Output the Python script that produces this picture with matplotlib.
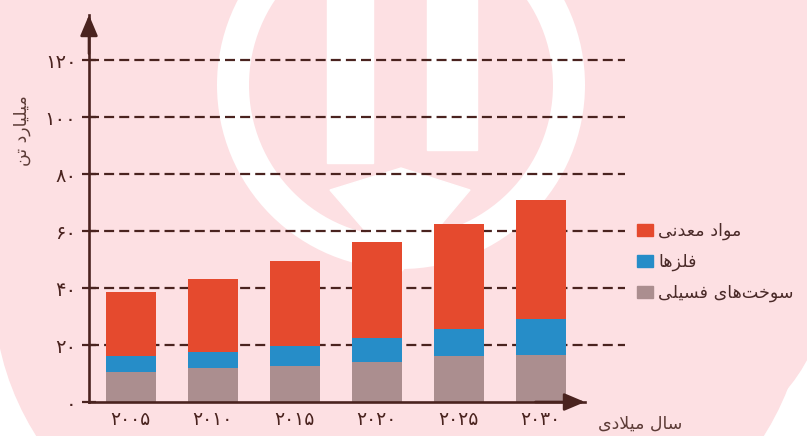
import matplotlib.pyplot as plt
from matplotlib.patches import Patch, Ellipse, Rectangle, Polygon

# data
years = ["۲۰۰۵", "۲۰۱۰", "۲۰۱۵", "۲۰۲۰", "۲۰۲۵", "۲۰۳۰"]
fossil = [10.5, 12, 12.5, 14, 16, 16.5]
metals = [5.5, 5.5, 7, 8.5, 9.5, 12.5]
minerals = [22.5, 25.5, 30, 33.5, 37, 42]
yticks = [0, 20, 40, 60, 80, 100, 120]
ytick_labels = ["۰", "۲۰", "۴۰", "۶۰", "۸۰", "۱۰۰", "۱۲۰"]
series_names = ["مواد معدنی", "فلزها", "سوخت‌های فسیلی"]
ylabel = "میلیارد تن"
xlabel = "سال میلادی"

red = "#e54a2e"
blue = "#268dc8"
grey = "#ab8e8f"
brown = "#4a231f"
pink = "#fde0e3"

# matplotlib does no arabic shaping, so pick presentation forms by hand
# (isolated, final, initial, medial)
FORMS = {
    'ا': ('\uFE8D', '\uFE8E', None, None),
    'د': ('\uFEA9', '\uFEAA', None, None),
    'ر': ('\uFEAD', '\uFEAE', None, None),
    'ز': ('\uFEAF', '\uFEB0', None, None),
    'و': ('\uFEED', '\uFEEE', None, None),
    'م': ('\uFEE1', '\uFEE2', '\uFEE3', '\uFEE4'),
    'ع': ('\uFEC9', '\uFECA', '\uFECB', '\uFECC'),
    'ن': ('\uFEE5', '\uFEE6', '\uFEE7', '\uFEE8'),
    'ی': ('\uFBFC', '\uFBFD', '\uFBFE', '\uFBFF'),
    'ف': ('\uFED1', '\uFED2', '\uFED3', '\uFED4'),
    'ل': ('\uFEDD', '\uFEDE', '\uFEDF', '\uFEE0'),
    'ه': ('\uFEE9', '\uFEEA', '\uFEEB', '\uFEEC'),
    'س': ('\uFEB1', '\uFEB2', '\uFEB3', '\uFEB4'),
    'خ': ('\uFEA5', '\uFEA6', '\uFEA7', '\uFEA8'),
    'ت': ('\uFE95', '\uFE96', '\uFE97', '\uFE98'),
}


def joins_next(c):
    return c in FORMS and FORMS[c][2] is not None


def shape(text):
    res = []
    i = 0
    n = len(text)
    while i < n:
        c = text[i]
        prev = text[i - 1] if i > 0 else ''
        nxt = text[i + 1] if i + 1 < n else ''
        if c not in FORMS:
            if c != '\u200c':
                res.append(c)
            i += 1
            continue
        jp = joins_next(prev)
        if c == 'ل' and nxt == 'ا':
            res.append('\uFEFC' if jp else '\uFEFB')
            i += 2
            continue
        jn = joins_next(c) and nxt in FORMS
        f = FORMS[c]
        if jp and jn:
            res.append(f[3])
        elif jp:
            res.append(f[1])
        elif jn:
            res.append(f[2])
        else:
            res.append(f[0])
        i += 1
    return ''.join(reversed(res))


W, H = 807, 436
fig = plt.figure(figsize=(W / 100, H / 100), dpi=100)
fig.patch.set_facecolor("white")


def fx(px):
    return px / W


def fy(py):
    return 1 - py / H


# pink background with the faint watermark
fig.patches.append(Rectangle((0, fy(300)), 1, 1, transform=fig.transFigure,
                             color=pink, zorder=-10))
fig.patches.append(Ellipse((fx(400), fy(295)), 2 * 405 / W, 2 * 318 / H,
                           transform=fig.transFigure, color=pink, zorder=-10))
right_pink = Ellipse((fx(400), fy(300)), 2 * 422 / W, 2 * 222 / H,
                     transform=fig.transFigure, color=pink, zorder=-10)
right_half = Rectangle((fx(400), 0), 1, 1, transform=fig.transFigure)
right_pink.set_clip_path(right_half)
fig.patches.append(right_pink)
ring = Ellipse((fx(401), fy(85)), 2 * 168 / W, 2 * 168 / H, transform=fig.transFigure,
               fill=False, ec="white", lw=32 * 0.72, zorder=-9)
fig.patches.append(ring)
fig.patches.append(Rectangle((fx(327), fy(163)), 46 / W, 170 / H,
                             transform=fig.transFigure, color="white", zorder=-9))
fig.patches.append(Rectangle((fx(427), fy(150)), 50 / W, 160 / H,
                             transform=fig.transFigure, color="white", zorder=-9))
fig.patches.append(Polygon([(fx(330), fy(190)), (fx(401), fy(168)), (fx(470), fy(190)),
                            (fx(401), fy(272))], closed=True,
                           transform=fig.transFigure, color="white", zorder=-9))

ax = fig.add_axes([fx(89), fy(402), (585 - 89) / W, (402 - 15) / H])
ax.set_facecolor("none")

x = range(len(years))
w = 0.61
ax.bar(x, fossil, w, color=grey, zorder=3)
ax.bar(x, metals, w, bottom=fossil, color=blue, zorder=3)
base2 = [a + b for a, b in zip(fossil, metals)]
ax.bar(x, minerals, w, bottom=base2, color=red, zorder=3)

ax.set_xlim(-0.51, 5.54)
ax.set_ylim(0, 135.8)

# dashed gridlines, running past the arrow
ax.hlines(yticks[1:], 0, 1.08, transform=ax.get_yaxis_transform(), colors=brown,
          linestyles=(0, (4.5, 2.3)), lw=1.6, clip_on=False, zorder=2)

for s in ["top", "right"]:
    ax.spines[s].set_visible(False)
for s in ["left", "bottom"]:
    ax.spines[s].set_color(brown)
    ax.spines[s].set_linewidth(1.9)
    ax.spines[s].set_zorder(4)

arrow = dict(arrowstyle="-|>,head_length=0.9,head_width=0.38", color=brown, lw=1.9,
             shrinkA=0, shrinkB=0, mutation_scale=14)
ax.annotate("", xy=(0, 1.0), xytext=(0, 0.9), xycoords="axes fraction", arrowprops=arrow)
ax.annotate("", xy=(1.0, 0), xytext=(0.9, 0), xycoords="axes fraction", arrowprops=arrow)

ax.set_yticks(yticks)
ax.set_yticklabels(ytick_labels, family=["DejaVu Sans"], fontsize=14, color=brown)
ax.tick_params(axis="y", direction="inout", length=10, width=1.6, color=brown, pad=4)
ax.set_xticks(list(x))
ax.set_xticklabels(years, family=["DejaVu Sans"], fontsize=13.5, color=brown)
ax.tick_params(axis="x", length=0, pad=6)

fig.text(fx(22), fy(131), shape(ylabel), rotation=90, ha="center", va="center",
         fontsize=12.5, color="#5c3b36", family=["DejaVu Sans"])
fig.text(fx(598), fy(424), shape(xlabel), ha="left", va="center",
         fontsize=12.5, color="#5c3b36", family=["DejaVu Sans"])

handles = [Patch(color=red), Patch(color=blue), Patch(color=grey)]
leg = fig.legend(handles, [shape(t) for t in series_names], loc="upper left",
                 bbox_to_anchor=(fx(637), fy(222)), frameon=False,
                 handlelength=0.92, handleheight=0.72, handletextpad=0.3,
                 labelspacing=0.72, borderpad=0, borderaxespad=0,
                 prop={"family": ["DejaVu Sans"], "size": 12.6})
for t in leg.get_texts():
    t.set_color("#4a2a28")

fig.savefig("out.png", dpi=100, facecolor=fig.get_facecolor())
